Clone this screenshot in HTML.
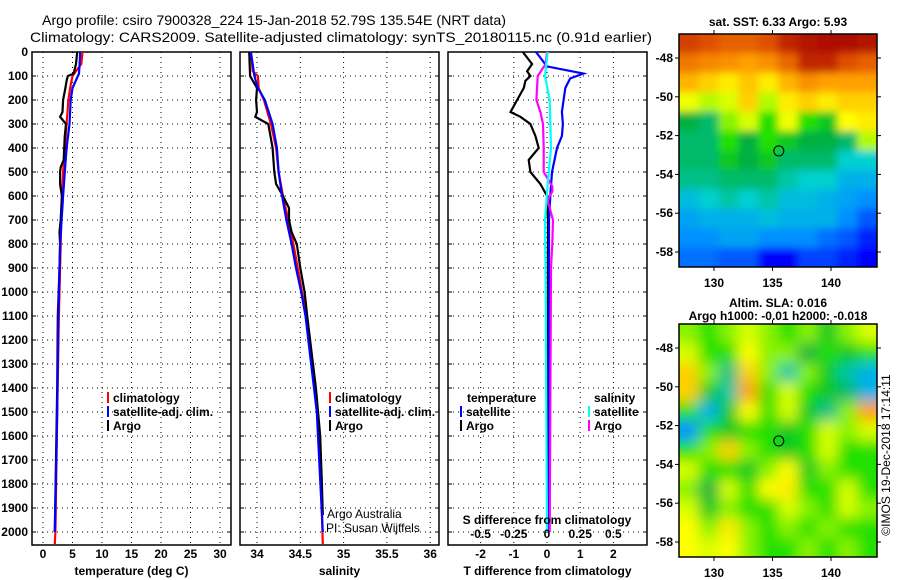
<!DOCTYPE html>
<html><head><meta charset="utf-8"><style>
body{margin:0;background:#fff;}
svg{display:block;font-family:"Liberation Sans",sans-serif;}
.b{font-weight:bold;font-size:12px;}
</style></head><body>
<svg id="c" width="900" height="580" viewBox="0 0 900 580" xmlns="http://www.w3.org/2000/svg">
<defs>
<filter id="blurA" x="-10%" y="-10%" width="120%" height="120%"><feGaussianBlur stdDeviation="4"/></filter>
<filter id="blurB" x="-10%" y="-10%" width="120%" height="120%"><feGaussianBlur stdDeviation="7"/></filter>
<clipPath id="clipA"><rect x="679" y="34" width="198" height="233"/></clipPath>
<clipPath id="clipB"><rect x="679" y="324" width="198" height="233"/></clipPath>
</defs>
<text x="42" y="25" font-size="14" textLength="464" lengthAdjust="spacingAndGlyphs">Argo profile: csiro 7900328_224 15-Jan-2018 52.79S 135.54E (NRT data)</text>
<text x="30" y="42" font-size="14" textLength="622" lengthAdjust="spacingAndGlyphs">Climatology: CARS2009. Satellite-adjusted climatology: synTS_20180115.nc (0.91d earlier)</text>
<g id="plots"></g>
<g id="maps"></g>
</svg>
<script>
// ---- data ----
const depthTicks=[0,100,200,300,400,500,600,700,800,900,1000,1100,1200,1300,1400,1500,1600,1700,1800,1900,2000];
const tempTicks=[0,5,10,15,20,25,30];
const salTicks=[34,34.5,35,35.5,36];
const salTickLabels=["34","34.5","35","35.5","36"];
const tdTicks=[-2,-1,0,1,2];
const sdTicks=[-0.5,-0.25,0,0.25,0.5];
const sdTickLabels=["-0.5","-0.25","0","0.25","0.5"];

const tArgoD=[0,50,90,100,120,150,200,250,270,300,350,400,450,480,500,550,600,700,750,800,900,1100,1400,1700,2000];
const tArgoV=[5.8,5.6,5.2,4.2,4.0,3.8,3.4,3.3,2.9,3.9,3.7,3.6,3.5,3.0,2.9,2.9,3.2,3.0,2.8,2.9,2.8,2.5,2.4,2.2,2.0];
const tClimD=[0,50,100,150,200,300,400,500,600,800,1100,1500,2000,2050];
const tClimV=[6.7,6.5,5.0,4.6,4.3,4.0,3.7,3.4,3.2,3.0,2.7,2.4,2.1,2.0];
const tSatD=[0,50,90,150,200,300,400,500,600,800,1100,1500,2000];
const tSatV=[6.3,6.2,6.1,5.0,4.7,4.5,4.0,3.7,3.4,2.9,2.6,2.4,2.0];

const sArgoD=[0,100,150,200,250,270,300,400,500,550,600,650,700,750,800,900,1000,1100,1400,1600,1800,1930];
const sArgoV=[33.91,33.92,34.0,33.99,34.0,33.98,34.13,34.18,34.2,34.22,34.3,34.37,34.37,34.4,34.46,34.5,34.55,34.58,34.68,34.73,34.75,34.76];
const sClimD=[0,80,100,150,200,300,400,500,600,700,800,900,1000,1100,1400,1600,1800,2050];
const sClimV=[33.93,33.95,34.01,34.02,34.08,34.16,34.22,34.25,34.3,34.36,34.42,34.47,34.52,34.57,34.67,34.72,34.74,34.76];
const sSatD=[0,100,150,200,300,400,500,600,700,800,900,1000,1100,1500,2000];
const sSatV=[33.93,33.97,34.01,34.09,34.18,34.23,34.25,34.29,34.34,34.4,34.45,34.51,34.56,34.69,34.76];

const dTArgoD=[0,50,80,100,120,150,200,250,270,300,350,400,450,500,550,600,700,1000,2000];
const dTArgoV=[-0.73,-0.45,-0.6,-0.5,-0.65,-0.7,-0.9,-1.1,-0.8,-0.5,-0.35,-0.25,-0.55,-0.5,-0.2,0,0.03,0.03,0.03];
const dTSatD=[0,60,90,110,150,250,300,350,400,500,600,700,2000];
const dTSatV=[-0.33,0,1.1,0.7,0.55,0.45,0.48,0.45,0.3,0.15,0.1,0.06,0.06];
const dSArgoD=[0,50,100,200,250,300,400,500,560,580,620,700,800,900,2000];
const dSArgoV=[0,-0.01,-0.07,-0.08,-0.05,-0.03,-0.025,-0.025,0.04,0.04,0.005,0.045,0.04,0.03,0.02];
const dSSatD=[0,100,200,400,550,700,1000,2000];
const dSSatV=[0.005,-0.015,0.02,0.03,0.005,-0.015,-0.01,0];

const sstGrid=[
[.92,.9,.88,.88,.9,.95,.97,.98,.98,.97],
[.85,.83,.82,.8,.82,.87,.95,.95,.9,.88],
[.78,.75,.72,.76,.72,.78,.82,.8,.8,.8],
[.68,.62,.65,.75,.62,.72,.75,.72,.75,.75],
[.45,.42,.6,.65,.55,.68,.55,.5,.7,.72],
[.42,.42,.55,.45,.55,.5,.45,.45,.42,.62],
[.42,.42,.5,.45,.5,.42,.42,.42,.35,.35],
[.4,.4,.42,.42,.42,.38,.35,.35,.3,.3],
[.32,.35,.38,.35,.38,.32,.32,.3,.28,.25],
[.28,.3,.3,.3,.32,.3,.3,.3,.25,.2],
[.25,.25,.28,.28,.25,.25,.25,.22,.2,.15],
[.22,.22,.2,.2,.12,.12,.18,.18,.15,.12]];
const slaGrid=[
[.6,.55,.6,.65,.6,.55,.6,.5,.6,.65],
[.65,.55,.55,.7,.6,.6,.45,.55,.5,.55],
[.75,.6,.4,.75,.6,.38,.6,.5,.38,.3],
[.75,.5,.38,.8,.55,.65,.55,.5,.42,.3],
[.55,.3,.5,.7,.55,.65,.5,.4,.6,.8],
[.25,.55,.5,.55,.55,.5,.55,.65,.6,.65],
[.55,.6,.75,.6,.55,.5,.55,.65,.55,.55],
[.65,.55,.55,.5,.6,.7,.5,.6,.55,.55],
[.6,.45,.65,.55,.7,.72,.55,.55,.65,.55],
[.65,.5,.6,.55,.55,.65,.6,.55,.65,.6],
[.7,.6,.72,.6,.55,.6,.55,.6,.55,.55],
[.7,.65,.7,.6,.55,.55,.6,.55,.6,.55]];
const lonTicks=[130,135,140];
const latTicks=[-48,-50,-52,-54,-56,-58];
const latTickLabels=["-48","-50","-52","-54","-56","-58"];
const argoLon=135.54, argoLat=-52.79;

// ---- helpers ----
const NS="http://www.w3.org/2000/svg";
const plots=document.getElementById('plots');
const maps=document.getElementById('maps');
function mk(tag,attrs,parent){const e=document.createElementNS(NS,tag);for(const k in attrs)e.setAttribute(k,attrs[k]);(parent||plots).appendChild(e);return e;}
const yTop=52, yPerM=0.24, yBot=545;
const yD=d=>yTop+d*yPerM;
const panels=[
 {x0:32,x1:231,sx:v=>43+v*5.9,ticks:tempTicks,labels:tempTicks.map(String),xl:"temperature (deg C)",name:"temperature"},
 {x0:240,x1:439,sx:v=>257+(v-34)*86.6,ticks:salTicks,labels:salTickLabels,xl:"salinity",name:"salinity"},
 {x0:448,x1:647,sx:v=>547+v*33.2,ticks:tdTicks,labels:tdTicks.map(String),xl:"T difference from climatology",name:"difference"}];
const sdx=v=>547+v*132.8;

panels.forEach((p,pi)=>{
  const g=mk('g',{});
  
  
  depthTicks.forEach(d=>{
    const l=mk('line',{x1:p.x0,x2:p.x1,y1:yD(d),y2:yD(d),stroke:'#000','stroke-width':1,'stroke-dasharray':'1 4'},g);
    
    
    mk('line',{x1:p.x0,x2:p.x0+4,y1:yD(d),y2:yD(d),stroke:'#000'},g);
    mk('line',{x1:p.x1-4,x2:p.x1,y1:yD(d),y2:yD(d),stroke:'#000'},g);
  });
  p.ticks.forEach((t,i)=>{
    const x=p.sx(t);
    const l=mk('line',{x1:x,x2:x,y1:yTop,y2:yBot,stroke:'#000','stroke-dasharray':'1 4'},g);
    
    
    const tx=mk('text',{x:x,y:558,'text-anchor':'middle',class:'b'},g);
    tx.textContent=p.labels[i];
    
    
  });
  const fr=mk('rect',{x:p.x0,y:yTop,width:p.x1-p.x0,height:yBot-yTop,fill:'none',stroke:'#000','stroke-width':1.5},g);
  
  
  const xl=mk('text',{x:(p.x0+p.x1)/2,y:575,'text-anchor':'middle',class:'b'},g);
  xl.textContent=p.xl;
  
  
});
depthTicks.forEach(d=>{
  const t=mk('text',{x:28,y:yD(d)+4,'text-anchor':'end',class:'b'});
  t.textContent=String(d);
  
  
});
function line(D,V,fx,color,name){
  const pts=D.map((d,i)=>fx(V[i]).toFixed(1)+','+yD(d).toFixed(1)).join(' ');
  const l=mk('polyline',{points:pts,fill:'none',stroke:color,'stroke-width':2.2,'stroke-linejoin':'miter'});
  
  
}
line(tClimD,tClimV,panels[0].sx,'#ff0000','temp-climatology-line');
line(tArgoD,tArgoV,panels[0].sx,'#000','temp-argo-line');
line(tSatD,tSatV,panels[0].sx,'#0000ff','temp-satellite-line');
line(sClimD,sClimV,panels[1].sx,'#ff0000','sal-climatology-line');
line(sArgoD,sArgoV,panels[1].sx,'#000','sal-argo-line');
line(sSatD,sSatV,panels[1].sx,'#0000ff','sal-satellite-line');
line(dTArgoD,dTArgoV,panels[2].sx,'#000','tdiff-argo-line');
line(dTSatD,dTSatV,panels[2].sx,'#0000ff','tdiff-satellite-line');
line(dSArgoD,dSArgoV,sdx,'#ff00ff','sdiff-argo-line');
line(dSSatD,dSSatV,sdx,'#00ffff','sdiff-satellite-line');
const st=mk('text',{x:547,y:524,'text-anchor':'middle',class:'b'});
st.textContent='S difference from climatology';


sdTicks.forEach((v,i)=>{
  const t=mk('text',{x:sdx(v),y:538,'text-anchor':'middle',class:'b'});
  t.textContent=sdTickLabels[i];
  
  
});
function legend(x,y,color,label,name){
  const g=mk('g',{});
  
  
  mk('rect',{x:x,y:y-10,width:2,height:11,fill:color},g);
  const t=mk('text',{x:x+6,y:y,class:'b'},g);t.textContent=label;
}
legend(107,402,'#ff0000','climatology','legend-climatology');
legend(107,416,'#0000ff','satellite-adj. clim.','legend-satellite-adj');
legend(107,430,'#000','Argo','legend-argo');
legend(329,402,'#ff0000','climatology','legend-climatology');
legend(329,416,'#0000ff','satellite-adj. clim.','legend-satellite-adj');
legend(329,430,'#000','Argo','legend-argo');
const lt=mk('text',{x:467,y:402,class:'b'});lt.textContent='temperature';

legend(460,416,'#0000ff','satellite','legend-t-satellite');
legend(460,430,'#000','Argo','legend-t-argo');
const ls=mk('text',{x:594,y:402,class:'b'});ls.textContent='salinity';

legend(588,416,'#00ffff','satellite','legend-s-satellite');
legend(588,430,'#ff00ff','Argo','legend-s-argo');
const a1=mk('text',{x:327,y:518,'font-size':12});a1.textContent='Argo Australia';

const a2=mk('text',{x:326,y:532,'font-size':12});a2.textContent='PI: Susan Wijffels';


// ---- maps ----
const cmStops=[[0,[0,0,128]],[0.12,[0,0,255]],[0.25,[0,144,255]],[0.35,[0,208,208]],[0.45,[0,176,64]],[0.55,[32,224,0]],[0.63,[200,255,0]],[0.7,[255,255,0]],[0.8,[255,160,0]],[0.9,[224,80,0]],[1,[160,0,0]]];
function cmap(v){
  v=Math.max(0,Math.min(1,v));
  for(let i=1;i<cmStops.length;i++){
    if(v<=cmStops[i][0]){
      const a=cmStops[i-1],b=cmStops[i],t=(v-a[0])/(b[0]-a[0]);
      const c=a[1].map((x,k)=>Math.round(x+(b[1][k]-x)*t));
      return `rgb(${c[0]},${c[1]},${c[2]})`;
    }
  }
  return 'rgb(160,0,0)';
}
const mx0=679,mW=198,mH=233;
const lonX=l=>714+(l-130)*11.7;
function drawMap(grid,y0,clip,filt,name,title1,title2){
  const g=mk('g',{},maps);
  
  
  const cg=mk('g',{'clip-path':`url(#${clip})`},g);
  const img=mk('g',{filter:`url(#${filt})`},cg);
  const cw=mW/10,ch=mH/12;
  grid.forEach((row,r)=>row.forEach((v,c)=>{
    let x=mx0+c*cw,y=y0+r*ch,w=cw+0.5,h=ch+0.5;
    if(c===0){x-=30;w+=30;} if(c===9)w+=30;
    if(r===0){y-=30;h+=30;} if(r===11)h+=30;
    mk('rect',{x:x,y:y,width:w,height:h,fill:cmap(v)},img);
  }));
  const latY=l=>y0+24+(-48-l)*19.4;
  mk('rect',{x:mx0,y:y0,width:mW,height:mH,fill:'none',stroke:'#000','stroke-width':1.5},g);
  lonTicks.forEach(l=>{
    mk('line',{x1:lonX(l),x2:lonX(l),y1:y0,y2:y0-4,stroke:'#000'},g);
    mk('line',{x1:lonX(l),x2:lonX(l),y1:y0+mH,y2:y0+mH+4,stroke:'#000'},g);
    const t=mk('text',{x:lonX(l),y:y0+mH+20,'text-anchor':'middle',class:'b'},g);t.textContent=String(l);
  });
  latTicks.forEach((l,i)=>{
    const y=latY(l);
    mk('line',{x1:mx0,x2:mx0-4,y1:y,y2:y,stroke:'#000'},g);
    mk('line',{x1:mx0+mW,x2:mx0+mW+4,y1:y,y2:y,stroke:'#000'},g);
    const t=mk('text',{x:673,y:y+4,'text-anchor':'end',class:'b'},g);t.textContent=latTickLabels[i];
  });
  const c=mk('circle',{cx:lonX(argoLon),cy:latY(argoLat),r:5,fill:'none',stroke:'#000','stroke-width':1},g);
  
  
  if(title2){
    const t1=mk('text',{x:778,y:y0-17,'text-anchor':'middle',class:'b'},g);t1.textContent=title1;
    const t2=mk('text',{x:778,y:y0-4,'text-anchor':'middle',class:'b'},g);t2.textContent=title2;
  } else {
    const t1=mk('text',{x:778,y:y0-8,'text-anchor':'middle',class:'b'},g);t1.textContent=title1;
  }
}
drawMap(sstGrid,34,'clipA','blurA','sst-map','sat. SST: 6.33 Argo: 5.93');
drawMap(slaGrid,324,'clipB','blurB','sla-map','Altim. SLA: 0.016','Argo h1000: -0.01 h2000: -0.018');
const cp=mk('text',{x:0,y:0,'font-size':12,'text-anchor':'middle',transform:'translate(890,455) rotate(-90)'},maps);
cp.textContent='©IMOS 19-Dec-2018 17:14:11';


</script>
</body></html>
